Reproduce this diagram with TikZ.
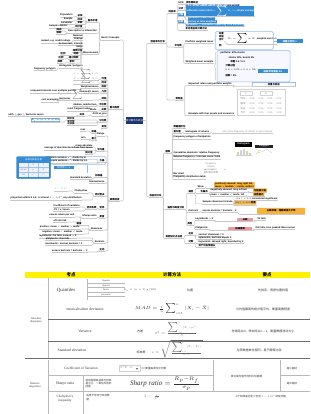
\RequirePackage{fix-cm}
\documentclass[tikz,border=0pt]{standalone}
\usepackage{fontspec}
\setmainfont{Liberation Sans}
\newfontfamily\cjk{Noto Sans CJK SC}
\newfontfamily\serf{Liberation Serif}
\usetikzlibrary{decorations.pathreplacing,calc}
\definecolor{navy}{RGB}{28,52,112}
\definecolor{mmblue}{RGB}{52,140,214}
\definecolor{lblue}{RGB}{150,190,240}
\definecolor{morange}{RGB}{245,178,60}
\definecolor{mpink}{RGB}{232,150,160}
\definecolor{hyellow}{RGB}{255,242,0}
\definecolor{cline}{RGB}{200,200,200}
\newcommand\zh[1]{{\cjk #1}}
\newcommand\mmR[6][]{\node[tp,#1,anchor=south west] (#2) at (#3,#4) {#5};
  \draw[ul] (#2.south west) -- (#2.south east);
  \draw[conn] (#6.south east) -- ++(1.5,0) |- (#2.south west);}
\newcommand\mmL[6][]{\node[tp,#1,anchor=south east] (#2) at (#3,#4) {#5};
  \draw[ul] (#2.south west) -- (#2.south east);
  \draw[conn] (#6.south west) -- ++(-1.5,0) |- (#2.south east);}
\begin{document}
\begin{tikzpicture}[x=1pt,y=-1pt,
  conn/.style={draw=cline,line width=0.6pt,rounded corners=1pt},
  ul/.style={draw=cline,line width=0.6pt},
  tp/.style={font=\fontsize{2.4}{2.7}\selectfont\bfseries,inner xsep=0.3pt,inner ysep=0.4pt,text=black},
  bl/.style={fill=mmblue,text=white},
  lbl/.style={fill=lblue!60},
  ob/.style={fill=morange,rounded corners=0.6pt,inner sep=0.8pt},
  pk/.style={fill=mpink,rounded corners=0.6pt},
  gry/.style={text=black!45,font=\fontsize{2.4}{2.7}\selectfont},
  lbo/.style={draw=lblue,line width=0.5pt,fill=white,minimum width=43,minimum height=3.8},
  tb/.style={font=\serf\fontsize{3.8}{4.4}\selectfont,text=black!80,inner sep=0.3pt},
  tz/.style={font=\cjk\fontsize{3}{3.6}\selectfont,text=black!80,inner sep=0.3pt},
  tl/.style={draw=gray!55,line width=0.4pt},
  td/.style={draw=gray!85!black,line width=0.6pt}]
\useasboundingbox (0,0) rectangle (310,414);
\fill[white] (0,0) rectangle (310,414);

% ---------- centre ----------
\node[fill=navy,text=white,font=\cjk\fontsize{2.4}{2.7}\selectfont,minimum width=17,minimum height=6.5,inner sep=0] (C) at (134.5,120.5) {统计概念与收益};

% ---------- left roots ----------
\node[tp,anchor=south east] (L1) at (120,40) {Basic Concepts};
\draw[ul] (L1.south west) -- (L1.south east);
\node[tp,anchor=south east] (L2) at (120,109.5) {\zh{集中趋势}};
\draw[ul] (L2.south west) -- (L2.south east);
\node[tp,anchor=south east] (L3) at (120,201) {\zh{离散程度}};
\draw[ul] (L3.south west) -- (L3.south east);
\draw[conn] (C.west) -- ++(-2.5,0) |- (L1.south east);
\draw[conn] (C.west) -- ++(-2.5,0) |- (L2.south east);
\draw[conn] (C.west) -- ++(-2.5,0) |- (L3.south east);

% L1
\mmL{L1a}{98}{22}{\zh{基本术语}}{L1}
\mmL{L1c}{97}{33}{Descriptive vs inferential}{L1}
\mmL{L1b}{99}{54}{Measurement}{L1}
\mmL{a1}{83}{17}{\zh{总体}}{L1a} \mmL{a1x}{73}{17}{Population}{a1}
\mmL{a2}{83}{21}{\zh{样本}}{L1a} \mmL{a2x}{73}{21}{Sample}{a2}
\mmL{a3}{83}{24.5}{\zh{参数}}{L1a} \mmL{a3x}{73}{24.5}{Parameter}{a3}
\mmL{a4}{83}{28}{\zh{统计量}}{L1a} \mmL{a4x}{68}{28}{Sample statistic}{a4}
\mmL{c1}{62}{31}{\zh{描述}}{L1c} \mmL{c2}{62}{34.5}{\zh{推断}}{L1c}
\mmL{b1}{83}{37}{Nominal}{L1b}
\mmL{b2}{83}{40.5}{Ordinal}{L1b} \mmL{b2x}{71}{43}{ranked, e.g. credit ratings}{b2}
\mmL{b3}{83}{45.5}{Interval}{L1b} \mmL{b3x}{73}{45.5}{no true zero}{b3}
\mmL{b4}{83}{48.5}{Ratio}{L1b}
\mmL{b5}{83}{52}{\zh{频数分布}}{L1b}
\mmL{b6}{79}{55.5}{\zh{组距}}{L1b} \mmL{b6x}{66}{55.5}{\zh{区间}}{b6}
\mmL{b7}{79}{59}{\zh{相对频数}}{L1b} \mmL{b7x}{64}{59}{\zh{比例}}{b7}
\mmL{b8}{75}{63}{\zh{累积}}{L1b} \mmL{b8x}{63}{63}{\zh{频数}}{b8}
\mmL{b9}{83}{68}{Histogram / polygon}{L1b} \mmL{b9x}{56}{70.5}{frequency polygon}{b9}

% L2
\mmL{m1}{107}{80}{\zh{均值}}{L2} \mmL[gry]{m1x}{99}{80}{$\mu=\sum X/N$}{m1}
\mmL{m2}{107}{84.5}{\zh{样本}}{L2} \mmL[gry]{m2x}{99}{84.5}{$\bar X=\sum X/n$}{m2}
\mmL{m3}{107}{88.5}{\zh{加权}}{L2} \mmL{m3x}{99}{88.5}{Weighted mean}{m3}
\mmL{m4}{107}{93}{\zh{几何}}{L2} \mmL{m4x}{99}{93}{Geometric mean}{m4}
\mmL{m4y}{77}{93}{compound returns over multiple periods}{m4x}
\mmL{m5}{107}{100}{\zh{调和}}{L2} \mmL[gry]{m5x}{93}{100}{$X_H=N/\sum(1/X_i)$}{m5}
\mmL{m5y}{71}{100}{Harmonic}{m5x} \mmL{m5z}{59}{102}{cost averaging}{m5y}
\mmL{m6}{107}{106}{\zh{中位数}}{L2} \mmL{m6x}{97}{106}{Median, middle item}{m6}
\mmL{m7}{107}{111}{\zh{众数}}{L2} \mmL{m7x}{97}{111}{Mode}{m7} \mmL{m7y}{91}{111}{most frequent value}{m7x}
\mmL{m8}{107}{116}{Arith vs geo}{L2} \mmL{m8x}{85}{116}{\zh{关系}}{m8}
\mmL{m8y}{44}{116.5}{arith $\ge$ geo $\ge$ harmonic mean}{m8x}
\mmL{m9}{107}{122}{\zh{分位数}}{L2}
\mmL{m9a}{75}{120}{\zh{四分位}}{m9} \mmL{m9b}{75}{123}{\zh{五分位}}{m9} \mmL{m9c}{75}{125.5}{\zh{十分位}}{m9}
\mmL[draw=mmblue,line width=0.5pt,fill=white,minimum width=28,rounded corners=0.8pt]{m9d}{60}{122}{$L_y=(n+1)\,y/100$}{m9a}
\mmL{m10}{107}{128}{\zh{其他}}{L2}

% L3
\mmL{d1}{105}{136}{Range}{L3} \mmL{d1a}{97}{133}{\zh{极差}}{d1} \mmL{d1b}{86}{131}{max}{d1a}
\mmL{d1c}{97}{140}{\zh{最大}}{d1} \mmL{d1d}{86}{139.5}{min}{d1c}
\mmL{d2}{105}{151}{\zh{平均差}}{L3}
\mmL{d2a}{93}{147}{mean absolute}{d2}
\mmL{d2b}{93}{150}{average of absolute deviations from mean}{d2}
\mmL{d2c}{93}{154}{\zh{绝对值}}{d2}
\draw[lblue,line width=0.5pt,rounded corners=1.5pt] (46,156.3) rectangle (106,164.6);
\mmL{d3}{105}{162.5}{\zh{方差}}{L3}
\mmL{d3a}{86}{159.3}{population variance $\sigma^2$, divide by N}{d3}
\mmL{d3b}{88}{163}{sample variance $s^2$, divide by n-1}{d3}
\draw[fill=mmblue,draw=mmblue!80!black,rounded corners=1.2pt] (16.5,156.5) rectangle (50.5,178.5);
\node[font=\cjk\fontsize{2.4}{2.7}\selectfont,text=white,inner sep=0] (bt) at (33.5,159.8) {总体与样本方差};
\fill[blue!6] (18.5,162.5) rectangle (48.5,177);
\draw[mmblue!50,line width=0.3pt] (18.5,167.3) -- (48.5,167.3) (18.5,172.1) -- (48.5,172.1) (28.5,162.5) -- (28.5,177) (38.5,162.5) -- (38.5,177);
\foreach \yy/\a/\b/\c in {165/{}/N/n,169.8/mean/$\mu$/$\bar X$,174.6/var/$\sigma^2$/$s^2$}{
  \node[gry,inner sep=0] at (23.5,\yy) {\a}; \node[gry,inner sep=0] at (33.5,\yy) {\b}; \node[gry,inner sep=0] at (43.5,\yy) {\c};}
\node[fill=mmblue,text=white,font=\fontsize{2.4}{2.7}\selectfont,minimum width=20,minimum height=3.5,inner sep=0] (d3n) at (64,167.5) {\zh{样本用} n$-$1};
\draw[lblue,line width=0.5pt] (87,164.6) -- (87,173);
\mmL{d4}{103}{177.5}{\zh{标准差}}{L3} \mmL{d4a}{92}{179}{standard deviation}{d4}
\mmL{d5}{105}{183}{Semivariance}{L3}
\mmL{d6}{105}{196}{\zh{切比雪夫}}{L3} \mmL{d6a}{88}{193}{Chebyshev}{d6} \mmL[gry]{d6b}{68}{191}{$1-1/k^2$}{d6a}
\mmL{d6c}{82}{200}{proportion within k s.d. is at least $1-1/k^2$, any distribution}{d6}
\mmL{d7}{105}{209}{\zh{变异}}{L3} \mmL{d7a}{97}{209}{\zh{变异系数}}{d7}
\mmL{d7b}{80}{207}{Coefficient of variation}{d7a} \mmL{d7c}{70}{211}{CV = s / mean}{d7a}
\mmL{d8}{105}{218}{\zh{夏普}}{L3} \mmL{d8a}{97}{218}{Sharpe ratio}{d8}
\mmL{d8b}{75}{217}{excess return per unit}{d8a} \mmL{d8c}{67}{222}{of total risk}{d8a}
\mmL{d9}{103}{230}{Skewness}{L3} \mmL{d9a}{82}{225.5}{\zh{偏度}}{d9}
\mmL{d9b}{80}{229}{positive: mean $>$ median $>$ mode}{d9} \mmL{d9c}{83}{234}{negative: mean $<$ median $<$ mode}{d9}
\mmL{d10}{105}{243}{Kurtosis}{L3} \mmL{d10a}{77}{238}{leptokurtic: fat tails, excess $>$ 0}{d10}
\mmL{d10b}{70}{240.5}{platykurtic: thin tails}{d10} \mmL{d10c}{83}{245.5}{mesokurtic: normal, kurtosis = 3}{d10}
\mmL{d11}{105}{251}{\zh{正态}}{L3} \mmL{d11a}{88}{252}{excess kurtosis = kurtosis $-$ 3}{d11}

% ---------- right roots ----------
\node[tp,anchor=south west] (R1) at (150,43.5) {\zh{收益率与分布}};
\draw[ul] (R1.south west) -- (R1.south east);
\node[tp,anchor=south west] (RL) at (149,197) {\zh{收益的分布}};
\draw[ul] (RL.south west) -- (RL.south east);
\draw[conn] (C.east) -- ++(3.5,0) |- (R1.south west);
\draw[conn] (C.east) -- ++(3.5,0) |- (RL.south west);

% R1
\mmR{R1a}{168}{13.5}{\zh{收益率}}{R1}
\mmR{R1b}{174}{47}{\zh{平均数}}{R1}
\mmR{R1c}{175}{100}{\zh{常用量}}{R1}
\mmR{ra1}{178}{4.3}{HPR}{R1a} \mmR{ra1x}{185.5}{4.3}{\zh{持有期收益}}{ra1}
\mmR{ra2}{178}{10}{\zh{公式}}{R1a}
\mmR[lbl]{ra2x}{185}{7.8}{$HPR=(P_1-P_0+D_1)/P_0$, one period}{ra2}
\mmR{ra2y}{190}{10.8}{total return = price change plus income}{ra2}
\mmR[bl]{ra3}{178}{16.8}{\zh{计算}}{R1a}
\mmR[bl]{ra3x}{186}{16.8}{arithmetic mean return $=\sum R_i/n$, simple average}{ra3}
\mmR[bl]{ra3y}{188}{20}{geometric mean return}{ra3}
\mmR[bl]{ra4}{178}{23.5}{\zh{比较}}{R1a}
\mmR[bl]{ra4x}{188}{23.2}{money vs time weighted}{ra4}
\mmR[bl]{ra4y}{186}{26.8}{geometric $\le$ arithmetic, equal only if no variability}{ra4}
\mmR{ra5}{185}{30.5}{\zh{年化收益率计算方法}}{R1a}

\mmR{rb1}{185}{43.5}{Portfolio weighted mean}{R1b}
\draw[cline,line width=0.5pt,decorate,decoration={brace,amplitude=1.5pt}] (216.5,48) -- (216.5,33);
\node[tp,anchor=south west] (rb1a) at (218.5,35.5) {\zh{权重}};
\node[tp,anchor=south west] (rb1b) at (218.5,38.5) {\zh{收益}};
\node[tp,anchor=south west] (rb1c) at (218.5,41.5) {\zh{合计}};
\mmR{rb1d}{227}{44.2}{$\bar X_w=\sum w_iX_i$, weights sum to 1}{rb1c}
\node[tp,anchor=south west] (rb1e) at (218.5,47.8) {\zh{例}};
\draw[lblue,line width=0.5pt,rounded corners=1.5pt] (215,31.5) rectangle (273.5,49.5);
\node[tp,bl,minimum width=26,minimum height=3.8,inner sep=0] (rb1n) at (290,41.3) {\zh{权重之和为一}};
\draw[lblue,line width=0.5pt] (273.5,41.3) -- (rb1n.west);
\mmR{rb2}{185}{63.5}{Weighted mean example}{R1b}
\fill[blue!3] (217,50.5) rectangle (290,82);
\draw[lblue,line width=0.5pt,rounded corners=1.5pt] (217,50.5) rectangle (290,82);
\draw[cline,line width=0.5pt,decorate,decoration={brace,amplitude=1.5pt}] (216,80) -- (216,52);
\node[tp,anchor=south west] (rb2a) at (220,55) {portfolio: 60\% stocks};
\node[tp,anchor=south west] (rb2b) at (228,59) {stocks 10\%, bonds 5\%};
\node[tp,anchor=south west] (rb2c) at (230,63) {\zh{权重} 0.6 / 0.4};
\node[tp,anchor=south west] (rb2d) at (225,67) {\zh{计算过程}};
\node[tp,anchor=south west] (rb2e) at (225,71.5) {$0.6\times10\%+0.4\times5\%$};
\node[tp,anchor=south west] (rb2f) at (225,77.5) {\zh{结果} = 8\%};
\node[tp,bl,minimum width=30,minimum height=3.8,inner sep=0] (rb2n) at (273,71.2) {\zh{加权平均收益} 8\%};

\mmR{rc1}{188}{85.8}{Expected return and portfolio weights}{R1c}
\mmR[lbo]{rc1n}{252}{86.3}{\zh{权重与收益}}{rc1}
\draw[gray!35,line width=0.3pt,fill=white] (237,89.5) rectangle (285,115);
\draw[gray!35,line width=0.3pt] (240,91.5) rectangle (252,95) (260,91.5) rectangle (272,95);
\node[gry,inner sep=0] (tha) at (246,93.3) {A};
\node[gry,inner sep=0] (thb) at (266,93.3) {B};
\foreach \yy/\lab in {99/\zh{情形}, 104/\zh{概率}, 108.5/\zh{收益}, 112.5/\zh{合计}}{
  \node[gry,inner sep=0] at (243,\yy) {\lab};
  \foreach \xx in {252,261,270,279}{\node[gry,inner sep=0] at (\xx,\yy) {0.25};}}
\mmR{rc2}{188}{115.8}{Example with four assets and scenarios}{R1c}

% RL
\mmR{R2}{165}{153}{\zh{图表}}{RL}
\mmR{R3}{167}{209.5}{\zh{偏度与峰度分析}}{RL}
\mmR{R4}{165}{238.5}{\zh{其他知识点总结}}{RL}
\mmR{r2z}{173}{128}{\zh{数据图形化}}{R2}
\mmR{r2a}{173}{133.5}{\zh{直方图}}{R2} \mmR{r2ax}{185}{133.5}{Histogram of returns}{r2a}
\mmR[gry]{r2ay}{222}{133.5}{bars show frequency of returns in each interval}{r2ax}
\mmR{r2b}{173}{139}{Frequency polygon of midpoints}{R2}
\node[fill=black,text=white,font=\fontsize{2.4}{2.7}\selectfont\bfseries,minimum width=17,minimum height=5,inner sep=0] (bk1) at (243.5,144.3) {Histogram};
\draw[gray!40,line width=0.3pt] (236,155) -- (252,155);
\foreach \xx/\hh in {238/3,241/5,244/6,247/4,250/2}{\fill[gray!35] (\xx-1,155) rectangle (\xx+1,155-\hh);}
\fill[yellow!80!orange] (238,153.5) circle (0.9) (249.5,153.5) circle (0.9);
\node[fill=black!85,text=white,font=\fontsize{2.4}{2.7}\selectfont\bfseries,minimum width=18,minimum height=3.5,inner sep=0] (bk2) at (264,146.3) {Polygon};
\draw[gray!45,line width=0.3pt] (256,154) -- (259,150) -- (263,151.5) -- (267,149) -- (272,153);
\fill[yellow!80!orange] (259,152.5) circle (0.9);
\mmR{r2c}{173}{155}{Cumulative absolute / relative frequency}{R2}
\mmR{r2d}{173}{159}{Relative frequency = interval count / total}{R2}
\foreach \yy/\tt in {163.5/{frequency}, 166.5/{relative}, 169.5/{cumulative}, 173/{\zh{累积相对频数}}}{\node[gry,inner sep=0] at (211,\yy) {\tt};}
\fill[mmblue] (205,169.5) circle (0.6); \fill[cyan!70] (212,169.5) circle (0.6); \fill[morange] (225,169.5) circle (0.6);
\mmR{r2e}{173}{175.5}{Bar chart}{R2}
\mmR{r2f}{173}{179}{Frequency distribution table}{R2}

\mmR{r3a}{188}{193.5}{\zh{偏度}}{R3}
\mmR{r3a1}{197}{188.5}{Skew}{r3a}
\mmR[ob,align=left]{r3a1x}{214}{188.5}{positively skewed: long right tail, \\ mean $>$ median $>$ mode, outliers}{r3a1}
\mmR{r3a2}{200}{193.5}{\zh{负偏态}}{r3a}
\mmR{r3a2x}{210}{192}{negatively skewed: long left tail}{r3a2}
\mmR{r3a2y}{210}{196}{mean $<$ median $<$ mode, tail}{r3a2}
\mmR[ob]{r3a2o}{253}{192.5}{\zh{均值最小值}}{r3a2x}
\mmR[ob]{r3a2p}{253}{196.5}{\zh{众数最大}}{r3a2y}
\mmR{r3a3}{202}{203.8}{Sample skewness formula}{r3a}
\mmR[ob]{r3a3o}{233.5}{204.8}{$|S_K|>0.5$ \zh{显著}}{r3a3}
\mmR{r3a3t}{235}{200.3}{$|S_K|>0.5$ considered significant}{r3a3}
\mmR{r3b}{188}{212.5}{Kurtosis}{R3}
\mmR{r3b1}{202}{212.5}{excess kurtosis = kurtosis$-$3}{r3b}
\mmR[ob,minimum width=48,minimum height=6.5]{r3b2}{257}{214.5}{\zh{尖峰厚尾：超额峰度大于零}}{r3b1}
\mmR{r3c}{187}{225.5}{\zh{类型}}{R3}
\mmR{r3c1}{195}{220.5}{Leptokurtic $>$3}{r3c}
\mmR[pk,minimum width=16]{r3c1p}{237}{221.5}{\zh{尖峰}}{r3c1}
\mmR{r3c1t}{257}{220.5}{fat tails}{r3c1p}
\mmR{r3c2}{195}{229.5}{Platykurtic}{r3c}
\mmR[pk,minimum width=24]{r3c2p}{228}{230.5}{\zh{低峰薄尾}}{r3c2}
\mmR{r3c2t}{255}{229.5}{thin tails, less peaked than normal}{r3c2p}

\mmR{r4a}{188}{235.5}{\zh{正态}}{R4}
\mmR{r4a1}{198}{236}{normal: skewness = 0}{r4a}
\mmR{r4a2}{198}{239.3}{symmetric, kurtosis equals 3}{r4a}
\mmR{r4b}{188}{243.5}{\zh{对数}}{R4}
\mmR{r4b1}{198}{243.5}{lognormal: skewed right, bounded by 0}{r4b}
\mmR{r4b2}{198}{247.5}{\zh{资产价格常服从}}{r4b}

% ---------- table ----------
\fill[hyellow] (25,271.5) rectangle (310,278);
\node[font=\cjk\fontsize{4.5}{5}\selectfont\bfseries,inner sep=0] (h1) at (71,274.8) {考点};
\node[font=\cjk\fontsize{4.5}{5}\selectfont\bfseries,inner sep=0] (h2) at (172,274.8) {计算方法};
\node[font=\cjk\fontsize{4.5}{5}\selectfont\bfseries,inner sep=0] (h3) at (267,274.8) {要点};

\draw[tl] (48,278) -- (48,358);
\node[tb,font=\serf\fontsize{2.8}{3.3}\selectfont,align=center] (abs) at (36,320) {Absolute\\dispersion};
\node[tb,font=\serf\fontsize{4.8}{5.5}\selectfont] (q) at (66,290) {Quantiles};
\draw[tl] (87,279) -- (87,299.5);
\foreach \yy in {283,287.5,292,296.5}{\draw[tl] (87,\yy) -- (125,\yy);}
\foreach \yy/\tt in {281/Quartile,285.5/Quintile,290/Decile,294.5/percentile}{\node[tb,font=\serf\fontsize{2.3}{2.6}\selectfont] at (106,\yy) {\tt};}
\node[tb,font=\serf\fontsize{2.8}{3.3}\selectfont] (qf) at (140,290) {$L_y=(n+1)\,y/100$};
\node[tz] (qp) at (190,290) {位置};
\node[tz] (qn) at (273,290) {先排序，再按位置找值};

\node[tb] (mad) at (85,309) {mean absolute deviation};
\node[tb,font=\serf\fontsize{4.5}{5}\selectfont] (madf) at (172,309) {$MAD=\frac{1}{n}\sum_{i=1}^{n}|X_i-\bar X|$};
\node[tz] (madn) at (263,309) {与均值偏离的绝对值平均，衡量离散程度};
\draw[td] (48,319) -- (310,319);

\node[tb] (var) at (85,331) {Variance};
\node[tz] (varz) at (140,331) {方差};
\node[tb,font=\serf\fontsize{3.6}{4.2}\selectfont,text=black!60] (varf) at (176,329.5) {$\sigma^2=\frac{\sum_{i=1}^{N}(X_i-\mu)^2}{N}$};
\node[tz] (varn) at (263,331) {总体除以N，样本除以n$-$1，衡量数据波动大小};
\draw[td] (48,341) -- (310,341);

\node[tb] (sd) at (72,350) {Standard deviation};
\node[tz] (sdz) at (141,352) {标准差};
\node[tb,font=\serf\fontsize{3.6}{4.2}\selectfont,text=black!60] (sdf) at (177,348.5) {$s=\sqrt{\frac{\sum_{i=1}^{n}(X_i-\bar X)^2}{n-1}}$};
\node[tz] (sdn) at (259,350) {与原数据单位相同，易于解释比较};
\draw[td] (25,358.5) -- (310,358.5);

\draw[tl] (48,360) -- (48,414);
\node[tb,font=\serf\fontsize{2.8}{3.3}\selectfont,align=center] (rel) at (35,385) {Relative\\dispersion};
\draw[tl] (48,375.5) -- (213,375.5) (280,375.5) -- (310,375.5);
\draw[tl] (48,391) -- (310,391);
\draw[tl] (83,375.5) -- (83,414);
\draw[tl] (213,360) -- (213,391) (280,360) -- (280,391);
\node[tb,font=\serf\fontsize{3.5}{4}\selectfont] (cv) at (81,368.5) {Coefficient of Variation};
\node[tb,draw=gray!35,font=\serf\fontsize{3.5}{4}\selectfont,text=black!55,inner sep=0.8pt] (cvf) at (130,368.5) {$CV=\frac{s}{\bar X}$};
\node[tz,font=\cjk\fontsize{2.6}{3}\selectfont] (cvt) at (154,368.5) {CV 衡量每单位平均数};
\node[tz,font=\cjk\fontsize{2.6}{3}\selectfont] (cvr) at (292,368.5) {越小越好};
\node[tz,font=\cjk\fontsize{2.6}{3}\selectfont] (midn) at (246.5,377) {单位或均值不同时比较离散};
\node[tb] (sh) at (65,383.5) {Sharpe ratio};
\node[tz,font=\cjk\fontsize{2.6}{3.4}\selectfont,align=left] (shd) at (98.5,383.5) {组合超额收益率与标准\\差之比，一单位风险的\\回报};
\node[tb,font=\serf\fontsize{7}{8}\selectfont] (shf) at (165,383.5) {$\textit{Sharp ratio}=\frac{\bar R_p-R_f}{\sigma_p}$};
\node[tz,font=\cjk\fontsize{2.6}{3}\selectfont] (shr) at (292,383.5) {越大越好};
\node[tb,align=center,font=\serf\fontsize{3.3}{4}\selectfont] (ch) at (65,399) {Chebyshev's\\inequality};
\node[tz,font=\cjk\fontsize{2.6}{3.4}\selectfont,align=left] (chd) at (98,397.5) {适用于任何分布的数\\据};
\node[tb,font=\serf\fontsize{4}{5}\selectfont,text=black!55] (chf) at (152,397) {$1-\frac{1}{k^2}$};
\node[tz,font=\cjk\fontsize{2.6}{3}\selectfont] (chn) at (261,397) {k个标准差内至少含有 $1-1/k^2$ 的观测值};
\end{tikzpicture}
\end{document}
